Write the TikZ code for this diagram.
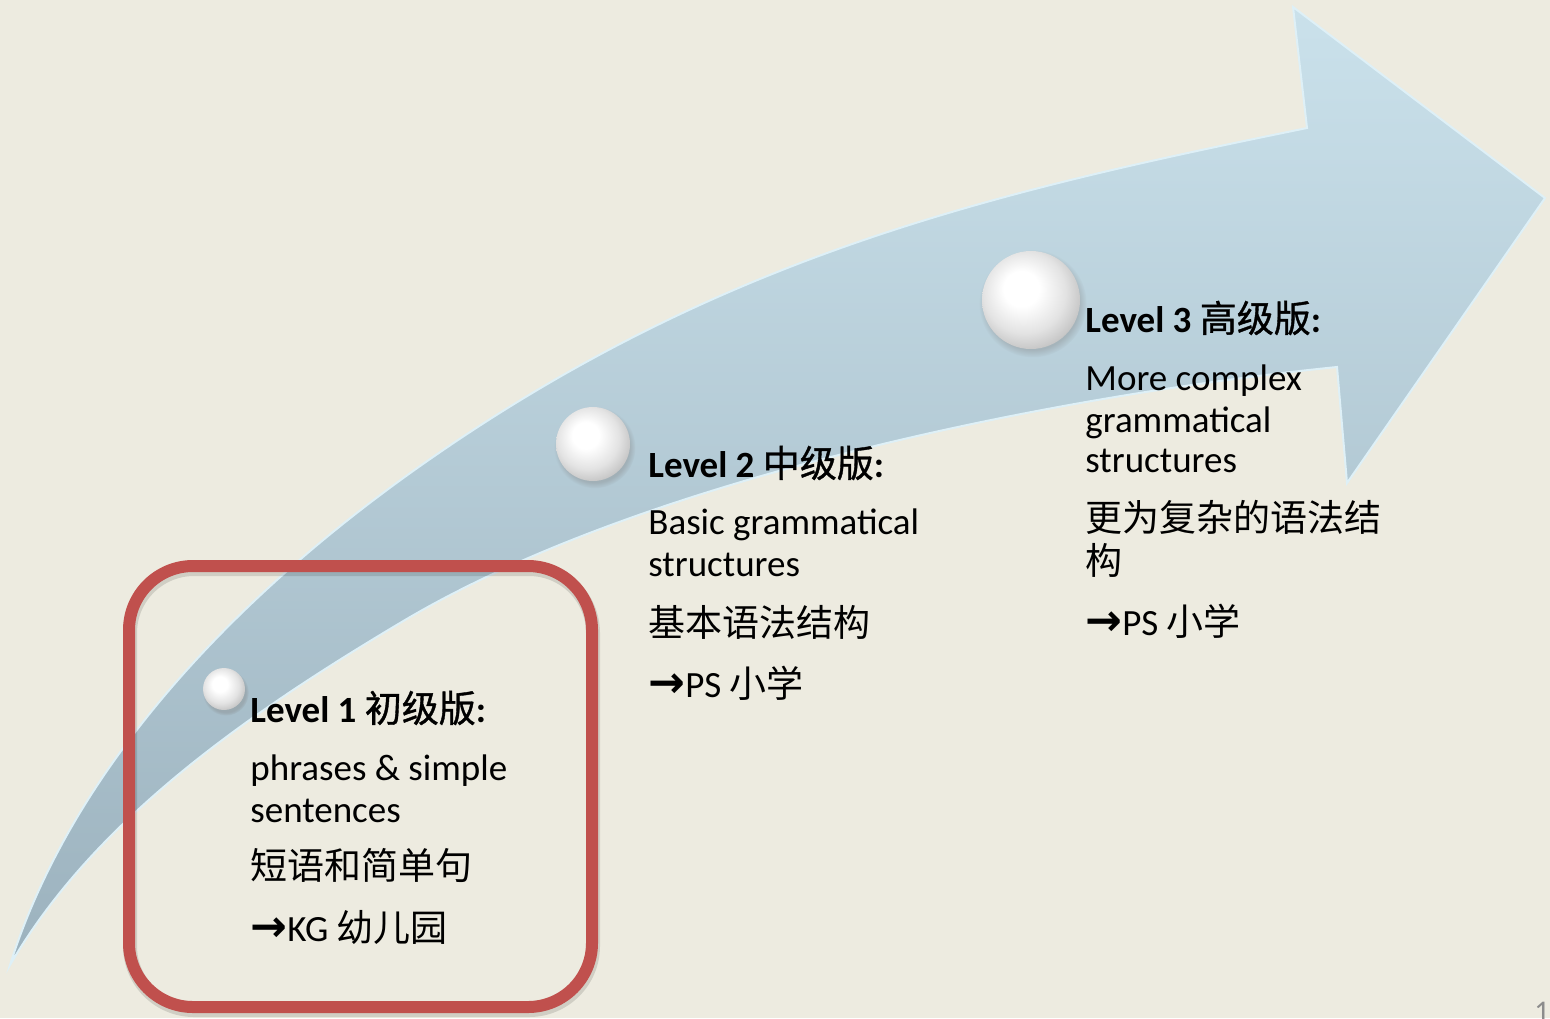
\documentclass[tikz,border=0pt]{standalone}
\usepackage{fontspec}
\setmainfont{Carlito}
\newfontfamily\cjk{Noto Sans CJK SC}
\newfontfamily\cjkh[FakeBold=1]{Noto Sans CJK SC}
\newfontfamily\symf{DejaVu Sans}
\usetikzlibrary{shadows}
\definecolor{bgc}{RGB}{237,235,224}
\definecolor{arrtop}{RGB}{202,225,235}
\definecolor{arrbot}{RGB}{156,178,190}
\definecolor{arredge}{RGB}{222,240,247}
\definecolor{boxred}{RGB}{192,80,77}
\pgfdeclareradialshading{pearl}{\pgfpoint{-6bp}{7bp}}{color(0bp)=(white); color(9bp)=(white); color(21bp)=(white!89!black); color(31bp)=(white!74!black); color(50bp)=(white!74!black)}
\newcommand{\bigarrow}{{\symf\bfseries\fontsize{22}{21}\selectfont →}}
\tikzset{
  lvl/.style={anchor=base west, inner sep=0pt, font=\fontsize{18.5}{21}\selectfont, text=black},
  lvlhead/.style={lvl, font=\fontsize{18.5}{21}\selectfont\bfseries},
  pearlball/.style={circle, inner sep=0pt, draw=none, shade, shading=pearl,
    circular drop shadow={shadow xshift=0.8pt, shadow yshift=-1.6pt, opacity=0.35}},
  redbox/.style={rectangle, draw=boxred, line width=6pt, rounded corners=32pt, inner sep=0pt},
  arrowbody/.style={top color=arrtop, bottom color=arrbot, draw=arredge, line width=1pt},
  pagenum/.style={anchor=base west, inner sep=0pt, text=black!45, font=\fontsize{15}{15}\selectfont}
}
\begin{document}
\begin{tikzpicture}[x=0.5pt,y=-0.5pt]
\useasboundingbox (0,0) rectangle (1550,1018);
\fill[bgc] (0,0) rectangle (1550,1018);
% curved arrow
\shade[arrowbody]
  (10,965) .. controls (95,818) and (254,710) .. (400,623)
  .. controls (640,479) and (1050,396) .. (1337,367)
  -- (1347,483) -- (1545,198) -- (1293,7) -- (1307,128)
  .. controls (1003,190) and (729,252) .. (433,457)
  .. controls (252,582) and (76,756) .. (10,965)
  -- cycle;
% red frame
\draw[black, opacity=0.12, line width=7pt, rounded corners=32pt] (130,569) rectangle (593,1010);
\node[redbox, minimum width=231.5pt, minimum height=220.5pt] (box1) at (360.5,786.5) {};
% pearls
\node[pearlball, minimum size=21pt] (s1) at (224,689) {};
\node[pearlball, minimum size=37pt] (s2) at (593,444) {};
\node[pearlball, minimum size=49pt] (s3) at (1031,300) {};
% level 1
\node[lvlhead] (l1h) at (250,722) {Level 1 {\mdseries\cjkh 初级版}:};
\node[lvl] (l1a) at (250,780) {phrases \& simple};
\node[lvl] (l1b) at (250,822) {sentences};
\node[lvl] (l1c) at (250,879) {\cjk 短语和简单句};
\node[lvl] (l1d) at (250,941) {\bigarrow KG {\cjk 幼儿园}};
% level 2
\node[lvlhead] (l2h) at (648,477) {Level 2 {\mdseries\cjkh 中级版}:};
\node[lvl] (l2a) at (648,534) {Basic grammatical};
\node[lvl] (l2b) at (648,576) {structures};
\node[lvl] (l2c) at (648,636) {\cjk 基本语法结构};
\node[lvl] (l2d) at (648,697) {\bigarrow PS {\cjk 小学}};
% level 3
\node[lvlhead] (l3h) at (1085,332) {Level 3 {\mdseries\cjkh 高级版}:};
\node[lvl] (l3a) at (1085,390) {More complex};
\node[lvl] (l3b) at (1085,432) {grammatical};
\node[lvl] (l3c) at (1085,472) {structures};
\node[lvl] (l3d) at (1085,531) {\cjk 更为复杂的语法结};
\node[lvl] (l3e) at (1085,574) {\cjk 构};
\node[lvl] (l3f) at (1085,635) {\bigarrow PS {\cjk 小学}};
% page number (cut off at the lower edge, as in the slide)
\node[pagenum] (pg) at (1534,1021) {1};
\end{tikzpicture}
\end{document}
